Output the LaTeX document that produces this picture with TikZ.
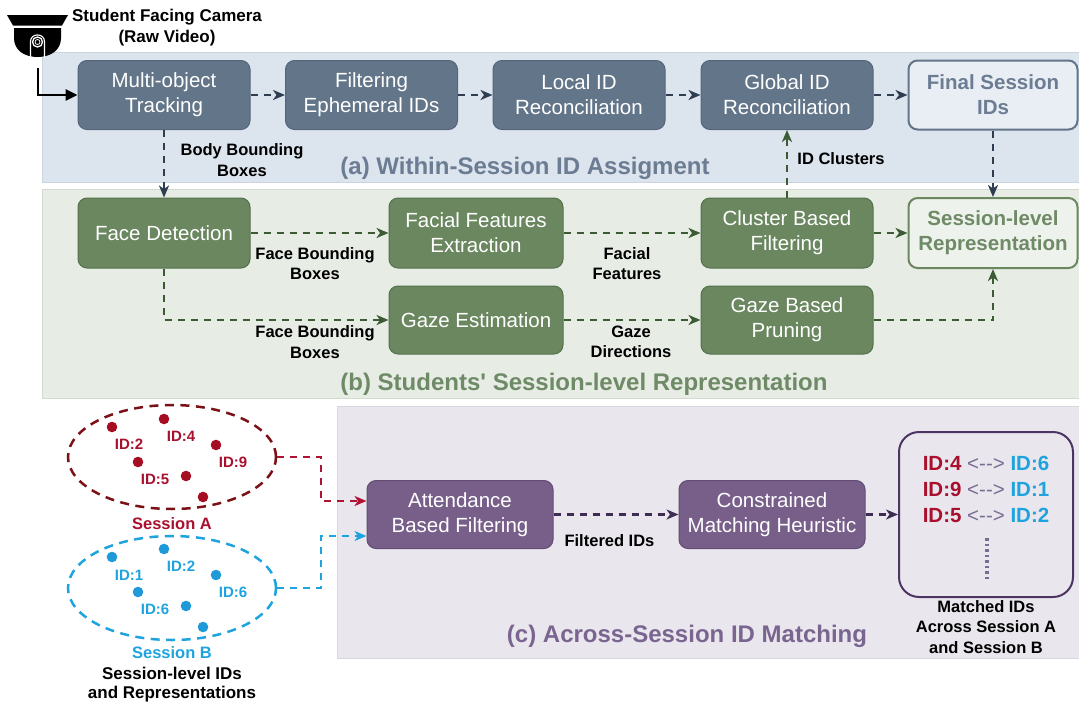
\documentclass[tikz,border=0pt]{standalone}
\usepackage{fontspec}
\setmainfont{Liberation Sans}[Ligatures=TeXOff]
\usetikzlibrary{arrows.meta,shapes.geometric,calc}
\definecolor{bandA}{HTML}{DCE4EE}
\definecolor{bandAd}{HTML}{CBD5E1}
\definecolor{bandB}{HTML}{E7ECE5}
\definecolor{bandBd}{HTML}{D3DBD0}
\definecolor{bandC}{HTML}{E9E7ED}
\definecolor{bandCd}{HTML}{D9D6DF}
\definecolor{boxA}{HTML}{637589}
\definecolor{boxAd}{HTML}{55667A}
\definecolor{lineA}{HTML}{2E3D4F}
\definecolor{boxB}{HTML}{6A875F}
\definecolor{boxBd}{HTML}{56714D}
\definecolor{lineB}{HTML}{3C5A34}
\definecolor{boxC}{HTML}{775F8A}
\definecolor{boxCd}{HTML}{624C74}
\definecolor{lineC}{HTML}{3E2C52}
\definecolor{idred}{HTML}{A8102E}
\definecolor{idblue}{HTML}{1FA3DE}
\definecolor{ellred}{HTML}{7B1116}
\definecolor{arrred}{HTML}{B01233}
\definecolor{dotred}{HTML}{A50E22}
\definecolor{dotblue}{HTML}{1E9AD8}
\definecolor{titA}{HTML}{6B7C93}
\definecolor{titB}{HTML}{6F8A66}
\definecolor{titC}{HTML}{7A6590}
\definecolor{arrgray}{HTML}{7B6C92}
\definecolor{finA}{HTML}{E9EEF4}
\definecolor{finB}{HTML}{EEF2EC}
\definecolor{mboxc}{HTML}{4B3562}
\begin{document}
\begin{tikzpicture}[x=1pt,y=-1pt,
  boxfont/.style={font=\fontsize{20.5}{25}\selectfont},
  procA/.style={boxfont, draw=boxAd, fill=boxA, text=white, rounded corners=9pt, minimum width=172pt, minimum height=69pt, align=center, line width=1pt, inner sep=0pt},
  procB/.style={procA, draw=boxBd, fill=boxB},
  procC/.style={procA, draw=boxCd, fill=boxC, minimum width=186pt, minimum height=68pt},
  outA/.style={procA, draw=boxA, fill=finA, text=titA, line width=2pt, minimum width=169pt, font=\bfseries\fontsize{20.5}{25}\selectfont},
  outB/.style={outA, draw=boxB, fill=finB, text=titB},
  lab/.style={font=\bfseries\fontsize{16.5}{20.5}\selectfont, align=center, text=black, inner sep=0pt},
  title/.style={font=\bfseries\fontsize{24}{28}\selectfont, inner sep=0pt},
  flow/.style={line width=2.2pt, dash pattern=on 7pt off 6pt, -{Stealth[length=12pt,width=10pt,inset=3.5pt]}},
  flowA/.style={flow, draw=lineA},
  flowB/.style={flow, draw=lineB},
  flowC/.style={flow, draw=lineC},
  idlab/.style={font=\bfseries\fontsize{15}{18}\selectfont, inner sep=0pt},
  sess/.style={ellipse, minimum width=208pt, minimum height=104pt, inner sep=0pt, line width=2.5pt, dash pattern=on 9pt off 6.5pt},
  mrow/.style={font=\bfseries\fontsize{20.5}{24}\selectfont, inner sep=0pt}
]
\useasboundingbox (0,0) rectangle (1079,704);
% bands
\filldraw[fill=bandA, draw=bandAd, line width=0.6pt] (42,52) rectangle (1079,182);
\filldraw[fill=bandB, draw=bandBd, line width=0.6pt] (42,189) rectangle (1079,398);
\filldraw[fill=bandC, draw=bandCd, line width=0.6pt] (337,406) rectangle (1079,658);

% camera icon
\fill[black] (7,15) -- (68,15) -- (62,25.5) -- (13,25.5) -- cycle;
\fill[black] (14,28) -- (61,28) -- (61,38) .. controls (61,50) and (51,57) .. (37.5,57) .. controls (24,57) and (14,50) .. (14,38) -- cycle;
\draw[white, line width=1.1pt, rounded corners=6.5pt] (30.5,57.5) -- (30.5,35) -- (44.5,35) -- (44.5,57.5);
\draw[white, line width=1.3pt] (37.5,42) circle (5pt);
\draw[white, line width=0.8pt] (37.5,42) circle (2.5pt);
\node[font=\bfseries\fontsize{17}{21}\selectfont, align=center, inner sep=0pt] (camtxt) at (167,28) {Student Facing Camera\\(Raw Video)};
\coordinate (camout) at (38,68);

% (a) row
\node[procA] (mot) at (164,95) {Multi-object\\Tracking};
\node[procA] (fei) at (371.5,95) {Filtering\\Ephemeral IDs};
\node[procA] (lir) at (579,95) {Local ID\\Reconciliation};
\node[procA] (gir) at (787,95) {Global ID\\Reconciliation};
\node[outA] (fsi) at (993,95) {Final Session\\IDs};
\node[title, text=titA] (tA) at (525,168) {(a) Within-Session ID Assigment};

% (b) rows
\node[procB, minimum height=70pt] (fd) at (164,233) {Face Detection};
\node[procB, minimum height=70pt, minimum width=174pt] (ffe) at (476,233) {Facial Features\\Extraction};
\node[procB, minimum height=70pt] (cbf) at (787,233) {Cluster Based\\Filtering};
\node[outB, minimum height=70pt] (slr) at (993,233) {Session-level\\Representation};
\node[procB, minimum height=68pt, minimum width=174pt] (ge) at (476,320) {Gaze Estimation};
\node[procB, minimum height=68pt] (gbp) at (787,320) {Gaze Based\\Pruning};
\node[title, text=titB] (tB) at (584,384) {(b) Students' Session-level Representation};

% (c)
\node[procC] (abf) at (460,514.5) {Attendance\\Based Filtering};
\node[procC] (cmh) at (772,514.5) {Constrained\\Matching Heuristic};
\node[draw=mboxc, line width=2pt, rounded corners=20pt, minimum width=174pt, minimum height=165pt, inner sep=0pt] (mbox) at (986,514.5) {};
\node[mrow] (m1) at (986,463) {\textcolor{idred}{ID:4} \textcolor{arrgray}{\mdseries <-->} \textcolor{idblue}{ID:6}};
\node[mrow] (m2) at (986,489) {\textcolor{idred}{ID:9} \textcolor{arrgray}{\mdseries <-->} \textcolor{idblue}{ID:1}};
\node[mrow] (m3) at (986,515) {\textcolor{idred}{ID:5} \textcolor{arrgray}{\mdseries <-->} \textcolor{idblue}{ID:2}};
\coordinate (dotsTop) at (987,538);
\coordinate (dotsBot) at (987,580);
\draw[arrgray, line width=3.4pt, dash pattern=on 2.5pt off 3pt] (dotsTop) -- (dotsBot);
\node[lab] (mlab) at (986,627) {Matched IDs\\Across Session A\\and Session B};
\node[title, text=titC] (tC) at (687,636) {(c) Across-Session ID Matching};

% sessions
\node[sess, draw=ellred] (sessA) at (172,457) {};
\node[sess, draw=idblue] (sessB) at (172,588) {};
\foreach \p in {(112,427),(164,419),(216,445),(138,462),(186,476),(203,497)} \fill[dotred] \p circle (5.3pt);
\foreach \p in {(112,557),(164,549),(216,575),(138,592),(186,606),(203,627)} \fill[dotblue] \p circle (5.3pt);
\node[idlab, text=idred] (a2) at (129,444) {ID:2};
\node[idlab, text=idred] (a4) at (181,436) {ID:4};
\node[idlab, text=idred] (a9) at (233,462) {ID:9};
\node[idlab, text=idred] (a5) at (155,479) {ID:5};
\node[idlab, text=idblue] (b1) at (129,575) {ID:1};
\node[idlab, text=idblue] (b2) at (181,566) {ID:2};
\node[idlab, text=idblue] (b6) at (233,592) {ID:6};
\node[idlab, text=idblue] (b6b) at (155,609) {ID:6};
\node[lab, text=idred] (sAl) at (172,524) {Session A};
\node[lab, text=idblue] (sBl) at (172,653) {Session B};
\node[lab, font=\bfseries\fontsize{17}{19.5}\selectfont] (slid) at (172,684.5) {Session-level IDs\\and Representations};

% labels
\node[lab] (lbbb) at (242,160) {Body Bounding\\Boxes};
\node[lab] (lidc) at (841,159) {ID Clusters};
\node[lab] (lfb1) at (315,263.5) {Face Bounding\\Boxes};
\node[lab] (lfb2) at (315,342) {Face Bounding\\Boxes};
\node[lab] (lff) at (627,263.5) {Facial\\Features};
\node[lab] (lgd) at (631,342) {Gaze\\Directions};
\node[lab] (lfid) at (609.5,540.5) {Filtered IDs};

% connectors
\draw[line width=2.8pt, -{Triangle[length=12pt,width=11pt]}] (camout) |- (mot.west);
\draw[flowA] (mot) -- (fei);
\draw[flowA] (fei) -- (lir);
\draw[flowA] (lir) -- (gir);
\draw[flowA] (gir) -- (fsi);
\draw[flowA] (mot) -- (fd);
\draw[flowA] (fsi) -- (slr);
\draw[flowB] (cbf) -- (gir);
\draw[flowB] (fd) -- (ffe);
\draw[flowB] (fd.south) |- (ge.west);
\draw[flowB] (ffe) -- (cbf);
\draw[flowB] (cbf) -- (slr);
\draw[flowB] (ge) -- (gbp);
\draw[flowB] (gbp.east) -| (slr.south);
\draw[flowC] (abf) -- (cmh);
\draw[flowC] (cmh) -- (mbox);
\draw[flow, draw=arrred] (sessA.east) -- ++(44,0) |- ($(abf.west)+(0,-13.5)$);
\draw[flow, draw=idblue] (sessB.east) -- ++(44,0) |- ($(abf.west)+(0,21.5)$);
\end{tikzpicture}
\end{document}
